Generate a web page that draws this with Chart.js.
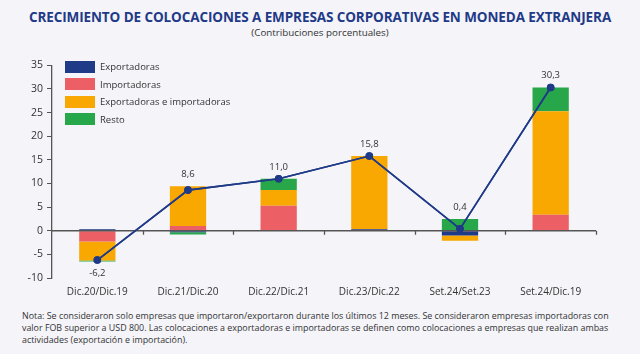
<!DOCTYPE html>
<html lang="es">
<head>
    <meta charset="UTF-8">
    <script src="https://cdn.jsdelivr.net/npm/chart.js@4.4.1/dist/chart.umd.min.js"></script>
    <title>Colocaciones en moneda extranjera</title>
    <style type="text/css">
        body {
            margin: 0;
            width: 640px;
            height: 354px;
            background: #f4f4f9;
            font-family: "Open Sans", "Noto Sans", sans-serif;
            position: relative;
            overflow: hidden;
        }
        #title {
            position: absolute; left: 0; width: 640px; top: 8px;
            text-align: center; color: #1f3a87; font-weight: bold; font-size: 13.5px;
            letter-spacing: -0.1px;
        }
        #subtitle {
            position: absolute; left: 0; width: 640px; top: 26px;
            text-align: center; color: #333; font-size: 9.8px;
        }
        #wrap { position: absolute; left: 0; top: 55px; width: 610px; height: 243px; }
        #legend { position: absolute; left: 65px; top: 58px; font-size: 9.5px; color: #333; }
        #legend div { height: 17.5px; display: flex; align-items: center; }
        #legend span.sw { display: inline-block; width: 30px; height: 12px; margin-right: 5px; }
        #note {
            position: absolute; left: 22px; top: 310px; width: 610px;
            font-size: 8.9px; line-height: 12px; color: #333; white-space: nowrap;
        }
    </style>
</head>
<body>
    <div id="title">CRECIMIENTO DE COLOCACIONES A EMPRESAS CORPORATIVAS EN MONEDA EXTRANJERA</div>
    <div id="subtitle">(Contribuciones porcentuales)</div>
    <div id="wrap"><canvas id="chart"></canvas></div>
    <div id="legend"></div>
    <div id="note">Nota: Se consideraron solo empresas que importaron/exportaron durante los últimos 12 meses. Se consideraron empresas importadoras con<br>valor FOB superior a USD 800. Las colocaciones a exportadoras e importadoras se definen como colocaciones a empresas que realizan ambas<br>actividades (exportación e importación).</div>
<script>

const categories = ['Dic.20/Dic.19', 'Dic.21/Dic.20', 'Dic.22/Dic.21', 'Dic.23/Dic.22', 'Set.24/Set.23', 'Set.24/Dic.19'];
const exportadoras = [0.3, -0.3, 0.0, 0.3, -1.0, 0.0];
const importadoras = [-2.3, 1.0, 5.3, 0.0, 0.0, 3.4];
const expImp = [-4.0, 8.4, 3.3, 15.5, -1.1, 21.9];
const resto = [-0.2, -0.5, 2.4, 0.0, 2.5, 5.0];
const total = [-6.2, 8.6, 11.0, 15.8, 0.4, 30.3];
const yTicks = [-10, -5, 0, 5, 10, 15, 20, 25, 30, 35];

const NAVY = '#1f3a87';
const FONT = '"Open Sans", "Noto Sans", sans-serif';
const barSeries = [
    { label: 'Exportadoras', data: exportadoras, color: '#1f3a87' },
    { label: 'Importadoras', data: importadoras, color: '#ec5f64' },
    { label: 'Exportadoras e importadoras', data: expImp, color: '#f8a800' },
    { label: 'Resto', data: resto, color: '#27a74a' }
];

// legend inside the plot, built from the series
const legendBox = document.getElementById('legend');
barSeries.forEach(s => {
    const row = document.createElement('div');
    row.innerHTML = '<span class="sw" style="background:' + s.color + '"></span>' + s.label;
    legendBox.appendChild(row);
});

function fmt(v) {
    return v.toFixed(1).replace('.', ',');
}

// zero line with category ticks + value labels for the line
const extras = {
    id: 'extras',
    afterDatasetsDraw(chart) {
        const ctx = chart.ctx;
        const area = chart.chartArea;
        const y = chart.scales.y;
        const y0 = y.getPixelForValue(0);
        const step = (area.right - area.left) / categories.length;
        ctx.save();
        ctx.strokeStyle = '#555';
        ctx.lineWidth = 1.3;
        ctx.beginPath();
        ctx.moveTo(area.left, y0);
        ctx.lineTo(area.right, y0);
        for (let i = 1; i <= categories.length; i++) {
            const px = Math.round(area.left + i * step) + 0.5;
            ctx.moveTo(px, y0);
            ctx.lineTo(px, y0 + 4);
        }
        ctx.stroke();

        const meta = chart.getDatasetMeta(chart.data.datasets.length - 1);
        ctx.fillStyle = '#333';
        ctx.font = '9.5px ' + FONT;
        ctx.textAlign = 'center';
        meta.data.forEach((pt, i) => {
            const v = total[i];
            if (v < 0) {
                ctx.textBaseline = 'top';
                ctx.fillText(fmt(v), pt.x, pt.y + 9);
            } else {
                // above the bar top or the point, whichever is higher
                let pos = 0;
                barSeries.forEach(s => { if (s.data[i] > 0) pos += s.data[i]; });
                const top = Math.min(pt.y, y.getPixelForValue(pos));
                ctx.textBaseline = 'bottom';
                ctx.fillText(fmt(v), pt.x, top - 7);
            }
        });
        ctx.restore();
        // redraw the line on top of the zero axis
        meta.controller.draw();
    }
};

const datasets = barSeries.map(s => ({
    type: 'bar',
    label: s.label,
    data: s.data,
    backgroundColor: s.color,
    stack: 'bars',
    order: 1,
    barPercentage: 0.4,
    categoryPercentage: 1.0
}));
datasets.push({
    type: 'line',
    label: 'Total',
    data: total,
    borderColor: NAVY,
    backgroundColor: NAVY,
    borderWidth: 1.6,
    pointRadius: 3,
    pointBackgroundColor: NAVY,
    stack: 'line',
    order: 0,
    tension: 0
});

new Chart(document.getElementById('chart'), {
    data: { labels: categories, datasets: datasets },
    options: {
        responsive: true,
        maintainAspectRatio: false,
        animation: false,
        layout: { padding: { top: 9, right: 14, left: 0, bottom: 0 } },
        plugins: {
            legend: { display: false },
            tooltip: { enabled: false }
        },
        scales: {
            x: {
                stacked: true,
                grid: { display: false },
                border: { display: false },
                ticks: { color: '#333', font: { size: 10, family: FONT }, padding: 0, maxRotation: 0 }
            },
            y: {
                stacked: true,
                min: -10,
                max: 35,
                afterBuildTicks: axis => { axis.ticks = yTicks.map(v => ({ value: v })); },
                afterFit: axis => { axis.width = 52; },
                grid: { drawOnChartArea: false, drawTicks: true, tickLength: 5, color: '#555' },
                border: { display: true, color: '#555', width: 1.3 },
                ticks: { color: '#333', font: { size: 10.5, family: FONT }, padding: 4 }
            }
        }
    },
    plugins: [extras]
});

</script>
</body>
</html>
